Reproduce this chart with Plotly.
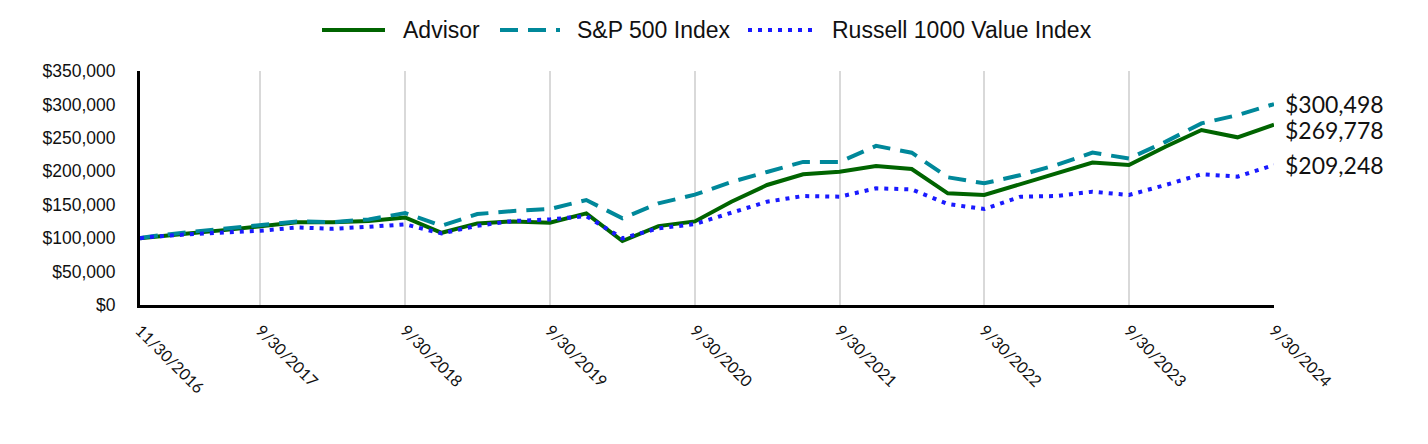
import plotly.graph_objects as go

dates = ["2016-11-30", "2016-12-31", "2017-03-31", "2017-06-30", "2017-09-30", "2017-12-31",
         "2018-03-31", "2018-06-30", "2018-09-30", "2018-12-31", "2019-03-31", "2019-06-30",
         "2019-09-30", "2019-12-31", "2020-03-31", "2020-06-30", "2020-09-30", "2020-12-31",
         "2021-03-31", "2021-06-30", "2021-09-30", "2021-12-31", "2022-03-31", "2022-06-30",
         "2022-09-30", "2022-12-31", "2023-03-31", "2023-06-30", "2023-09-30", "2023-12-31",
         "2024-03-31", "2024-06-30", "2024-09-30"]

advisor = [100000, 102000, 107000, 112000, 118000, 123700, 123700, 125600, 131000, 108000,
           122000, 125000, 123000, 137000, 95700, 118000, 125000, 154500, 179500, 195500,
           199400, 208000, 203400, 167000, 164500, 181000, 196000, 213000, 209400, 236800,
           261700, 250800, 269778]

sp500 = [100000, 103000, 109000, 114000, 119000, 125000, 124000, 128000, 137500, 118600,
         136000, 140600, 143600, 157000, 129600, 152000, 165000, 184000, 199000, 214000,
         214000, 238000, 227800, 191000, 182000, 194400, 209400, 228000, 219000, 244000,
         271700, 284000, 300498]

russell = [100000, 102000, 105700, 108700, 111000, 116000, 114000, 117000, 120600, 107000,
           118600, 125600, 128000, 133000, 99700, 114700, 121000, 138000, 154500, 163000,
           162000, 174500, 173000, 151000, 143600, 162000, 163000, 169500, 164500, 179500,
           195500, 192000, 209248]

series_names = ["Advisor", "S&P 500 Index", "Russell 1000 Value Index"]

tick_dates = ["2016-11-30", "2017-09-30", "2018-09-30", "2019-09-30", "2020-09-30",
              "2021-09-30", "2022-09-30", "2023-09-30", "2024-09-30"]
tick_labels = ["11/30/2016", "9/30/2017", "9/30/2018", "9/30/2019", "9/30/2020",
               "9/30/2021", "9/30/2022", "9/30/2023", "9/30/2024"]

y_ticks = [0, 50000, 100000, 150000, 200000, 250000, 300000, 350000]
y_labels = ["$0", "$50,000", "$100,000", "$150,000", "$200,000", "$250,000", "$300,000", "$350,000"]

end_labels = ["$269,778", "$300,498", "$209,248"]
end_shift = [-5, 0, 0]

colors = ["#006400", "#00889A", "#1a1aff"]
dashes = ["solid", "18px,10px", "4px,6px"]

# plot area geometry (pixels) for placing the custom legend
L, R, T, B = 140, 1274, 71, 305
PW, PH = R - L, B - T
def px(x):
    return (x - L) / PW
def py(y):
    return (B - y) / PH

legend_samples = [(322, 385), (500, 560), (748, 815)]
legend_text_x = [401, 575, 830]
legend_y = 30

fig = go.Figure()
for vals, name, c, d in zip([advisor, sp500, russell], series_names, colors, dashes):
    fig.add_trace(go.Scatter(x=dates, y=vals, mode="lines", name=name,
                             line=dict(color=c, width=4, dash=d), showlegend=False))

for series, lab, sh in zip([advisor, sp500, russell], end_labels, end_shift):
    fig.add_annotation(x=dates[-1], y=series[-1], text=lab, showarrow=False,
                       xanchor="left", yanchor="middle", xshift=9, yshift=sh,
                       font=dict(family="Lato", size=23, color="#111111"))

for (x0, x1), tx, name, c, d in zip(legend_samples, legend_text_x, series_names, colors, dashes):
    fig.add_shape(type="line", xref="paper", yref="paper",
                  x0=px(x0), x1=px(x1), y0=py(legend_y), y1=py(legend_y),
                  line=dict(color=c, width=4, dash=d))
    fig.add_annotation(xref="paper", yref="paper", x=px(tx), y=py(legend_y),
                       text=name, showarrow=False, xanchor="left", yanchor="middle",
                       font=dict(family="Liberation Sans, Arial", size=23, color="#111111"))

fig.update_layout(
    width=1428, height=444,
    margin=dict(l=L, r=1428 - R, t=T, b=444 - B, autoexpand=False),
    plot_bgcolor="white", paper_bgcolor="white",
    showlegend=False,
    xaxis=dict(type="date", range=["2016-11-30", "2024-09-30"],
               tickvals=tick_dates, ticktext=tick_labels, tickangle=45,
               showgrid=True, gridcolor="#d9d9d9", gridwidth=1.5,
               showline=True, linecolor="black", linewidth=3,
               ticks="", ticklabelstandoff=7, automargin=False,
               tickfont=dict(family="Lato", size=16, color="#111111"),
               zeroline=False),
    yaxis=dict(range=[0, 350000], tickvals=y_ticks, ticktext=y_labels,
               showgrid=False, showline=True, linecolor="black", linewidth=3,
               ticks="", automargin=False, ticklabelstandoff=18,
               tickfont=dict(family="Liberation Sans, Arial", size=17.5, color="#111111"),
               zeroline=False),
)

fig.write_html("out.html", config={"displayModeBar": False},
               post_script="document.body.style.margin='0';document.body.style.overflow='hidden';")
